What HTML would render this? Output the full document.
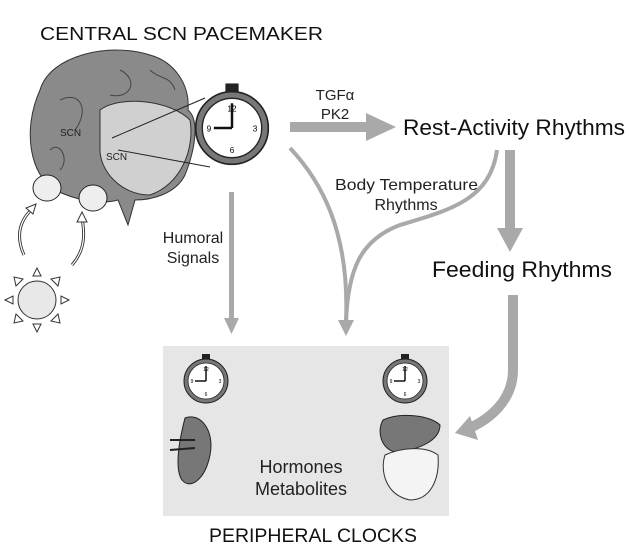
<!DOCTYPE html>
<html><head><meta charset="utf-8"><style>
html,body{margin:0;padding:0;background:#fff;}
svg{display:block;font-family:"Liberation Sans",sans-serif;}
</style></head><body>
<svg width="629" height="547" viewBox="0 0 629 547" xmlns="http://www.w3.org/2000/svg">
<defs>
<g id="clk">
<rect x="-4" y="-27" width="8" height="5" fill="#222"/>
<circle r="22" fill="#777" stroke="#222" stroke-width="1"/>
<circle r="18" fill="#fff" stroke="#222" stroke-width="0.8"/>
<line x1="0" y1="0" x2="0" y2="-15" stroke="#111" stroke-width="1.5"/>
<line x1="0" y1="0" x2="-11" y2="0" stroke="#111" stroke-width="1.5"/>
<text x="0" y="-10" font-size="5" text-anchor="middle">12</text>
<text x="14" y="2" font-size="5" text-anchor="middle">3</text>
<text x="0" y="15" font-size="5" text-anchor="middle">6</text>
<text x="-14" y="2" font-size="5" text-anchor="middle">9</text>
</g>
</defs>
<text x="40" y="40" font-size="18" fill="#111" textLength="283" lengthAdjust="spacingAndGlyphs">CENTRAL SCN PACEMAKER</text>
<!-- brain -->
<path d="M40,90 C50,55 110,42 150,55 C175,62 190,85 188,110 C200,120 195,150 185,175 C175,195 150,200 135,200 L128,225 L118,200 C100,205 75,200 55,190 C30,175 22,130 40,90 Z" fill="#8a8a8a" stroke="#333"/>
<path d="M100,110 C120,95 170,100 190,120 C195,150 180,185 150,195 C120,195 100,170 100,150 Z" fill="#d0d0d0" stroke="#333"/>
<path d="M60,100 C80,90 90,110 75,130 M120,70 C140,80 130,100 110,95 M50,150 C60,140 70,160 60,170 M150,70 C160,80 170,75 175,90" fill="none" stroke="#444"/>
<text x="60" y="136" font-size="10" fill="#222">SCN</text>
<text x="106" y="160" font-size="10" fill="#222">SCN</text>
<line x1="112" y1="138" x2="205" y2="98" stroke="#222"/>
<line x1="118" y1="150" x2="210" y2="167" stroke="#222"/>
<!-- eyes -->
<ellipse cx="47" cy="188" rx="14" ry="13" fill="#eee" stroke="#222"/>
<ellipse cx="93" cy="198" rx="14" ry="13" fill="#eee" stroke="#222"/>
<!-- big clock -->
<g transform="translate(232,128) scale(1.65)"><use href="#clk"/></g>
<!-- sun -->
<circle cx="37" cy="300" r="19" fill="#e8e8e8" stroke="#333"/>
<g fill="#fff" stroke="#333">
<polygon points="37,268 33,276 41,276"/><polygon points="37,332 33,324 41,324"/>
<polygon points="5,300 13,296 13,304"/><polygon points="69,300 61,296 61,304"/>
<polygon points="14,277 16,286 23,279"/><polygon points="60,277 58,286 51,279"/>
<polygon points="14,323 16,314 23,321"/><polygon points="60,323 58,314 51,321"/>
</g>
<path d="M24,255 C15,235 20,220 33,208" fill="none" stroke="#333" stroke-width="3"/>
<path d="M24,255 C15,235 20,220 33,208" fill="none" stroke="#fff" stroke-width="1.2"/>
<path d="M72,265 C85,250 85,235 82,218" fill="none" stroke="#333" stroke-width="3"/>
<path d="M72,265 C85,250 85,235 82,218" fill="none" stroke="#fff" stroke-width="1.2"/>
<polygon points="36,204 26,208 33,214" fill="#fff" stroke="#333"/>
<polygon points="82,212 77,222 87,222" fill="#fff" stroke="#333"/>
<!-- arrows -->
<g fill="#a9a9a9" stroke="none">
<rect x="290" y="122" width="78" height="10"/><polygon points="366,113 396,127 366,141"/>
<rect x="505" y="150" width="10" height="80"/><polygon points="497,228 510,252 523,228"/>
<rect x="229" y="192" width="5" height="128"/><polygon points="224,318 231.5,334 239,318"/>
<polygon points="247,372 262,379 247,386"/>
</g>
<g fill="none" stroke="#a9a9a9">
<path d="M290,148 C320,180 350,230 346,322" stroke-width="4"/>
<path d="M497,150 C490,200 450,210 400,225 C360,240 348,270 346,322" stroke-width="4"/>
<path d="M513,295 L513,370 C513,400 490,420 465,430" stroke-width="10"/>
<path d="M365,379 L258,379" stroke-width="5"/>
<path d="M372,462 C330,455 320,410 352,398" stroke-width="4"/>
</g>
<polygon points="338,320 346,336 354,320" fill="#a9a9a9"/>
<polygon points="470,416 455,433 478,440" fill="#a9a9a9"/>
<polygon points="347,390 364,395 352,408" fill="#a9a9a9"/>
<!-- labels -->
<text x="335" y="100" font-size="15" fill="#222" text-anchor="middle">TGFα</text>
<text x="335" y="119" font-size="15" fill="#222" text-anchor="middle">PK2</text>
<text x="403" y="135" font-size="22" fill="#111" textLength="222" lengthAdjust="spacingAndGlyphs">Rest-Activity Rhythms</text>
<text x="335" y="190" font-size="16" fill="#222" textLength="143" lengthAdjust="spacingAndGlyphs">Body Temperature</text>
<text x="406" y="210" font-size="16" fill="#222" text-anchor="middle">Rhythms</text>
<text x="193" y="243" font-size="16" fill="#222" text-anchor="middle">Humoral</text>
<text x="193" y="263" font-size="16" fill="#222" text-anchor="middle">Signals</text>
<text x="432" y="277" font-size="22" fill="#111" textLength="180" lengthAdjust="spacingAndGlyphs">Feeding Rhythms</text>
<!-- peripheral box -->
<rect x="163" y="346" width="286" height="170" fill="#e6e6e6"/>
<g transform="translate(206,381)"><use href="#clk"/></g>
<g transform="translate(405,381)"><use href="#clk"/></g>
<path d="M185,418 C200,412 215,430 210,455 C205,480 190,490 182,480 C175,470 178,445 185,418 Z" fill="#777" stroke="#222"/>
<path d="M170,440 L195,440 M170,450 L195,448" stroke="#222" stroke-width="2"/>
<path d="M383,420 C400,412 430,415 440,425 C440,440 420,450 395,452 C380,448 377,430 383,420 Z" fill="#777" stroke="#222"/>
<path d="M385,455 C380,470 385,495 410,500 C430,500 440,480 438,455 C425,445 400,448 385,455 Z" fill="#f4f4f4" stroke="#333"/>
<text x="301" y="473" font-size="18" fill="#222" text-anchor="middle">Hormones</text>
<text x="301" y="495" font-size="18" fill="#222" text-anchor="middle">Metabolites</text>
<text x="209" y="542" font-size="19" fill="#111" textLength="208" lengthAdjust="spacingAndGlyphs">PERIPHERAL CLOCKS</text>
</svg>
</body></html>
